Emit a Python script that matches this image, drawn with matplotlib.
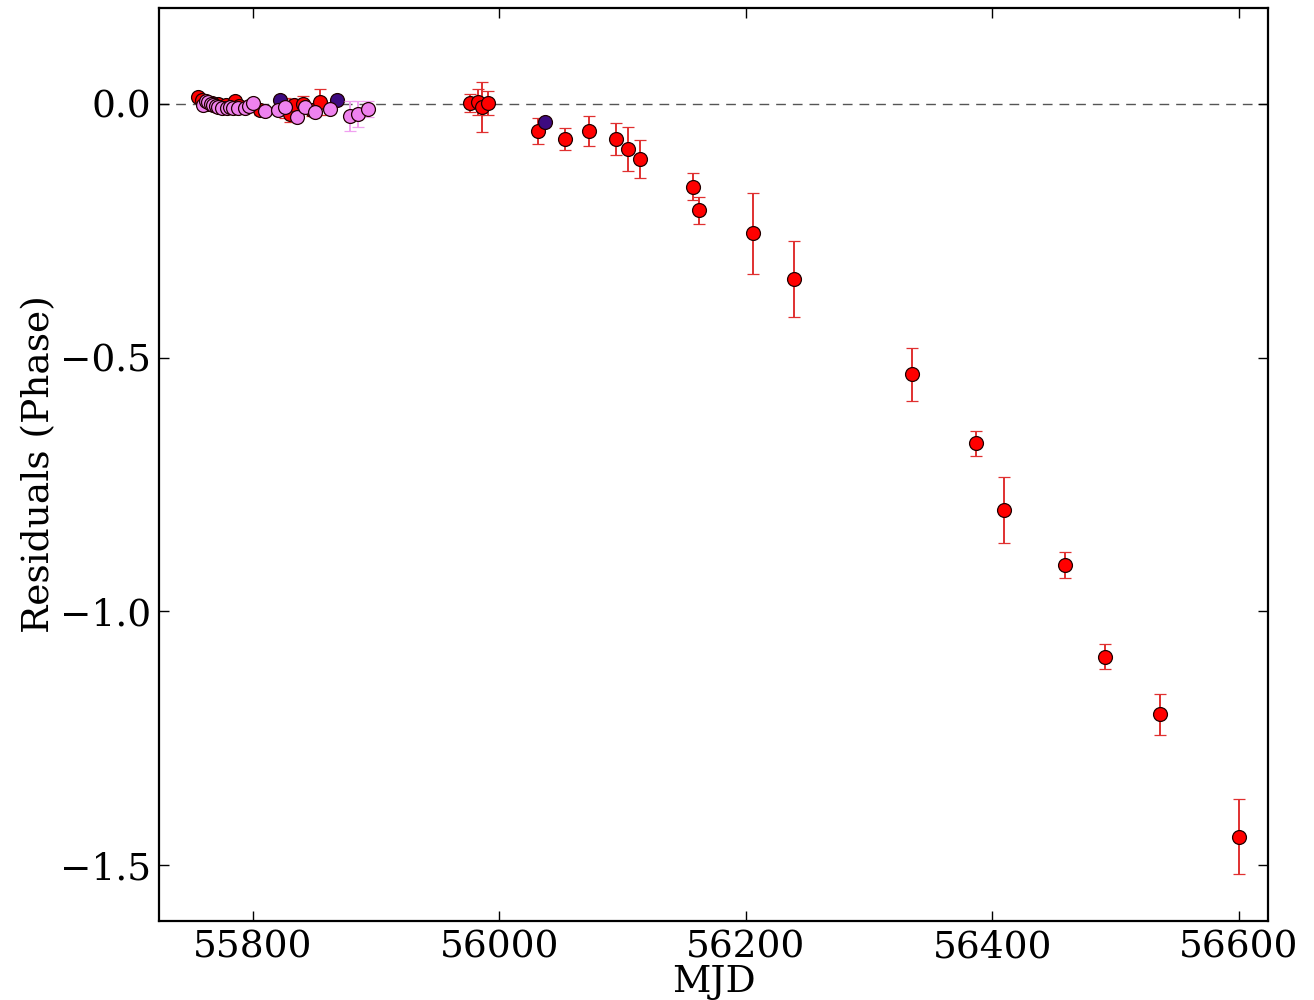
import matplotlib
matplotlib.use("Agg")
import matplotlib.pyplot as plt
import numpy as np

# Timing residuals, grouped by observing instrument
red_mjd = [55755.3, 55758.5, 55762.6, 55771.5, 55778.0, 55785.4, 55788.6, 55805.7,
           55826.0, 55830.1, 55833.3, 55840.7, 55848.0, 55854.5,
           55976, 55983, 55986, 55991,
           56031, 56053, 56073, 56095, 56104, 56114, 56157, 56162, 56206, 56239,
           56335, 56387, 56409, 56459, 56491, 56536, 56600]
red_res = [0.014, 0.008, 0.000, 0.000, -0.002, 0.006, -0.004, -0.012,
           -0.008, -0.020, -0.002, 0.000, -0.012, 0.004,
           0.002, 0.004, -0.006, 0.002,
           -0.053, -0.069, -0.053, -0.069, -0.089, -0.109, -0.163, -0.210, -0.255, -0.345,
           -0.533, -0.669, -0.801, -0.909, -1.089, -1.203, -1.444]
red_err = [0.006, 0.008, 0.010, 0.008, 0.008, 0.008, 0.010, 0.010,
           0.020, 0.015, 0.012, 0.015, 0.012, 0.025,
           0.018, 0.025, 0.050, 0.023,
           0.025, 0.022, 0.030, 0.032, 0.044, 0.037, 0.027, 0.027, 0.080, 0.074,
           0.053, 0.024, 0.065, 0.026, 0.025, 0.040, 0.074]

indigo_mjd = [55766.6, 55821.9, 55868.3, 56037]
indigo_res = [0.002, 0.008, 0.008, -0.035]
indigo_err = [0.004, 0.004, 0.004, 0.005]

violet_mjd = [55759.3, 55761.8, 55763.4, 55765.8, 55767.5, 55769.9, 55771.5, 55774.8,
              55778.8, 55781.3, 55783.7, 55787.8, 55793.5, 55796.7, 55800.0,
              55809.7, 55820.3, 55826.0, 55835.7, 55842.3, 55850.4, 55862.6,
              55878.8, 55885.3, 55893.5]
violet_res = [-0.002, 0.006, 0.004, 0.000, -0.002, -0.004, -0.006, -0.008,
              -0.008, -0.006, -0.008, -0.008, -0.008, -0.004, 0.002,
              -0.014, -0.012, -0.006, -0.026, -0.006, -0.016, -0.010,
              -0.024, -0.020, -0.010]
violet_err = [0.005, 0.005, 0.005, 0.005, 0.005, 0.005, 0.005, 0.005,
              0.005, 0.005, 0.005, 0.005, 0.005, 0.005, 0.005,
              0.006, 0.006, 0.006, 0.008, 0.006, 0.008, 0.008,
              0.030, 0.025, 0.015]

plt.rcParams['font.family'] = ['DejaVu Serif']
plt.rcParams['mathtext.fontset'] = 'dejavuserif'

fig = plt.figure(figsize=(13.14, 10), dpi=100)
ax = fig.add_axes([0.121, 0.079, 0.844, 0.913])

ax.axhline(0.0, color='#555555', linestyle=(0, (7, 5)), linewidth=1.0, zorder=1)

common = dict(fmt='o', markersize=10, markeredgewidth=0.9, markeredgecolor='#200000',
              capsize=4, elinewidth=1.4, capthick=1.4)
ax.errorbar(red_mjd, red_res, yerr=red_err, color='red', ecolor='#e03030',
            zorder=2, **common)
ax.errorbar(indigo_mjd, indigo_res, yerr=indigo_err, color='#3d0a80', ecolor='#3d0a80',
            zorder=3, **common)
ax.errorbar(violet_mjd, violet_res, yerr=violet_err, color='violet', ecolor='#f0a0f0',
            zorder=4, **common)

ax.set_xlim(55724, 56623.5)
ax.set_ylim(-1.61, 0.189)
ax.set_xticks([55800, 56000, 56200, 56400, 56600])
ax.set_yticks([0.0, -0.5, -1.0, -1.5])
ax.tick_params(direction='in', length=7, width=1, labelsize=27, pad=6,
               top=True, right=True)
for s in ax.spines.values():
    s.set_linewidth(1.6)

ax.set_xlabel('MJD', fontsize=27, labelpad=-1)
ax.set_ylabel('Residuals (Phase)', fontsize=27, labelpad=2)

fig.savefig('out.png', dpi=100)
